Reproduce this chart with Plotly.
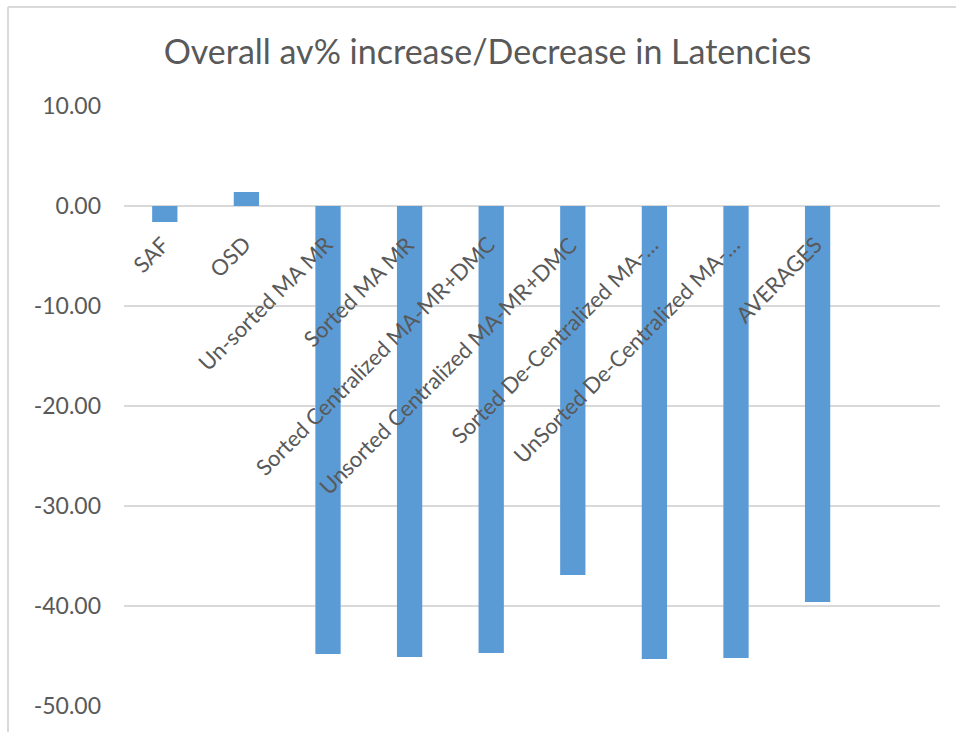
import plotly.graph_objects as go

categories = ["SAF", "OSD", "Un-sorted MA MR", "Sorted MA MR",
              "Sorted Centralized MA-MR+DMC", "Unsorted Centralized MA-MR+DMC",
              "Sorted De-Centralized MA-…", "UnSorted De-Centralized MA-…", "AVERAGES"]
values = [-1.6, 1.4, -44.8, -45.1, -44.7, -36.9, -45.3, -45.2, -39.6]
y_ticks = [10, 0, -10, -20, -30, -40, -50]
y_tick_labels = ["10.00", "0.00", "-10.00", "-20.00", "-30.00", "-40.00", "-50.00"]
title_text = "Overall av% increase/Decrease in Latencies"

W, H = 956, 732
ML, MR, MT, MB = 124, 16, 106, 26
PW, PH = W - ML - MR, H - MT - MB

GRAY = "#595959"
FONT = "Lato, Carlito, Calibri, sans-serif"

fig = go.Figure()
fig.add_trace(go.Bar(x=categories, y=values, marker=dict(color="#5B9BD5", line=dict(width=0)),
                     hoverinfo="x+y"))

annotations = []
for c in categories:
    annotations.append(dict(x=c, y=0, xref="x", yref="y", text=c, showarrow=False,
                            textangle=-45, xanchor="right", yanchor="top",
                            xshift=12, yshift=-22,
                            font=dict(family=FONT, size=22, color=GRAY)))

# chart-area border (left and top edges)
bx = (8 - ML) / PW
by = (H - MB - 7) / PH
shapes = [
    dict(type="line", xref="paper", yref="paper", x0=bx, x1=bx, y0=-1, y1=by,
         line=dict(color="#d9d9d9", width=2)),
    dict(type="line", xref="paper", yref="paper", x0=bx, x1=2, y0=by, y1=by,
         line=dict(color="#d9d9d9", width=2)),
]

fig.update_layout(
    width=W, height=H,
    margin=dict(l=ML, r=MR, t=MT, b=MB),
    paper_bgcolor="white", plot_bgcolor="white",
    showlegend=False,
    bargap=0.69,
    title=dict(text=title_text, x=487.5 / W, xref="container", xanchor="center",
               y=1 - 52 / H, yref="container", yanchor="middle",
               font=dict(family=FONT, size=34, color=GRAY, weight=400)),
    xaxis=dict(range=[-0.5, 9.5], showticklabels=False, showgrid=False,
               zeroline=False, showline=False, ticks=""),
    yaxis=dict(range=[-50, 10], tickvals=y_ticks, ticktext=y_tick_labels,
               showgrid=True, gridcolor="#d9d9d9", gridwidth=2,
               zeroline=True, zerolinecolor="#d9d9d9", zerolinewidth=2,
               showline=False, ticks="", ticklabelstandoff=22,
               tickfont=dict(family=FONT, size=23, color=GRAY)),
    annotations=annotations,
    shapes=shapes,
)

fig.write_html("out.html")
